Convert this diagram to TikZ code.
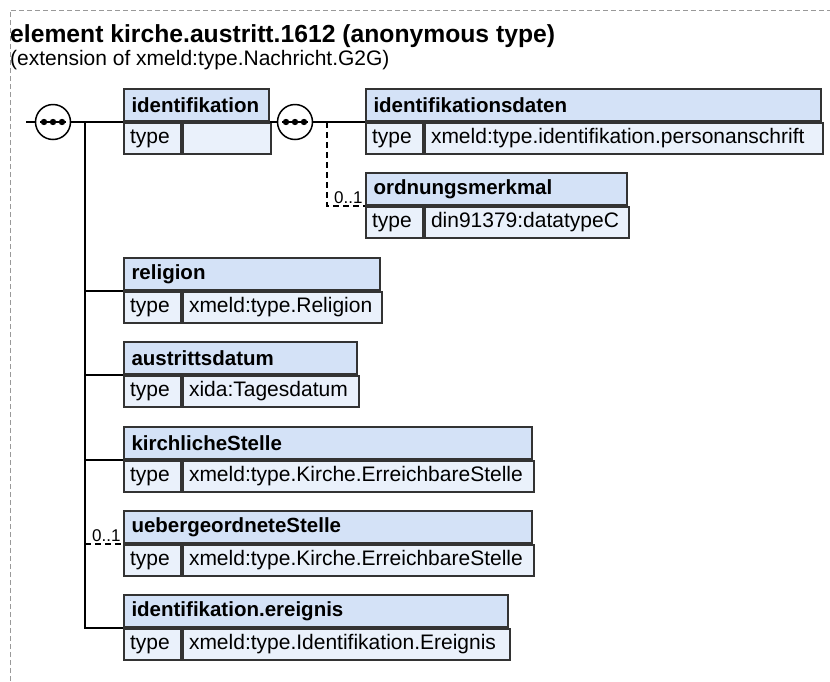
\documentclass[tikz,border=0pt]{standalone}
\usepackage{fontspec}
\setmainfont{Liberation Sans}
\usetikzlibrary{positioning}

\definecolor{headblue}{HTML}{D4E2F7}
\definecolor{rowblue}{HTML}{EAF1FB}
\definecolor{boxline}{HTML}{333333}

\begin{document}
\begin{tikzpicture}[x=1pt, y=-1pt,
	cell/.style={rectangle, draw=boxline, line width=2pt, inner ysep=0pt, align=left},
	elhead/.style={cell, fill=headblue, inner xsep=7.5pt, minimum height=32pt, anchor=south west,
		font=\fontsize{20.5}{24}\selectfont\bfseries},
	eltype/.style={cell, fill=rowblue, inner xsep=6pt, minimum height=31pt, anchor=north west,
		text width=45pt, font=\fontsize{21}{24}\selectfont},
	elval/.style={eltype, text width=#1},
	conn/.style={line width=2pt, black},
	opt/.style={conn, dash pattern=on 6pt off 4pt},
	multi/.style={above left, inner sep=1.5pt, font=\fontsize{17}{20}\selectfont},
	seqsym/.style={circle, draw=black, fill=white, line width=1.5pt, minimum size=35pt, inner sep=0pt,
		path picture={
			\draw[black, line width=1.8pt] ([xshift=-13pt]path picture bounding box.center)
				-- ([xshift=13pt]path picture bounding box.center);
			\foreach \dx in {-9,0,9}
				\fill[black] ([xshift=\dx pt]path picture bounding box.center) circle (3.2pt);
		}},
	frame/.style={black!40, line width=1pt, dash pattern=on 5pt off 3pt}]

	\useasboundingbox (0,0) rectangle (830,681);
	\draw[frame] (10,681) -- (10,10) -- (830,10);

	% heading
	\node[anchor=base west, inner sep=0pt, font=\fontsize{24.7}{30}\selectfont\bfseries]
		(title) at (10,42) {element kirche.austritt.1612 (anonymous type)};
	\node[anchor=base west, inner sep=0pt, font=\fontsize{21}{24}\selectfont]
		(subtitle) at (10,65) {(extension of xmeld:type.Nachricht.G2G)};

	% first level
	\node[elhead, text width=130pt] (ident) at (123,122) {identifikation};
	\node[eltype] (ident-t) at (ident.south west) {type};
	\node[elval=76pt] (ident-v) at (ident-t.north east) {};

	\node[elhead, text width=241pt] (relig) at (123,291) {religion};
	\node[eltype] (relig-t) at (relig.south west) {type};
	\node[elval=187pt] (relig-v) at (relig-t.north east) {xmeld:type.Religion};

	\node[elhead, text width=218pt] (austr) at (123,375) {austrittsdatum};
	\node[eltype] (austr-t) at (austr.south west) {type};
	\node[elval=164pt] (austr-v) at (austr-t.north east) {xida:Tagesdatum};

	\node[elhead, text width=393pt] (kirch) at (123,460) {kirchlicheStelle};
	\node[eltype] (kirch-t) at (kirch.south west) {type};
	\node[elval=339pt] (kirch-v) at (kirch-t.north east) {xmeld:type.Kirche.ErreichbareStelle};

	\node[elhead, text width=393pt] (ueber) at (123,544) {uebergeordneteStelle};
	\node[eltype] (ueber-t) at (ueber.south west) {type};
	\node[elval=339pt] (ueber-v) at (ueber-t.north east) {xmeld:type.Kirche.ErreichbareStelle};

	\node[elhead, text width=369pt] (ereig) at (123,628) {identifikation.ereignis};
	\node[eltype] (ereig-t) at (ereig.south west) {type};
	\node[elval=315pt] (ereig-v) at (ereig-t.north east) {xmeld:type.Identifikation.Ereignis};

	% second level
	\node[elhead, text width=440pt] (idd) at (365,122) {identifikationsdaten};
	\node[eltype] (idd-t) at (idd.south west) {type};
	\node[elval=386pt] (idd-v) at (idd-t.north east) {xmeld:type.identifikation.personanschrift};

	\node[elhead, text width=246pt] (ordn) at (365,206) {ordnungsmerkmal};
	\node[eltype] (ordn-t) at (ordn.south west) {type};
	\node[elval=192pt] (ordn-v) at (ordn-t.north east) {din91379:datatypeC};

	% sequences and connectors
	\coordinate (start) at (26,122);
	\node[seqsym] (seq1) at (53,122) {};
	\node[seqsym] (seq2) at (295,122) {};
	\coordinate (bus1) at (85,122);
	\coordinate (bus2) at (327,122);

	\draw[conn] (start) -- (seq1);
	\draw[conn] (seq1) -- (ident.south west);
	\draw[conn] (bus1) |- (relig.south west);
	\draw[conn] (bus1) |- (austr.south west);
	\draw[conn] (bus1) |- (kirch.south west);
	\draw[conn] (bus1) |- (ereig.south west);
	\draw[opt] (bus1 |- ueber.south west) -- node[multi, pos=1] {0..1} (ueber.south west);

	\draw[conn] (ident.south east) -- (seq2);
	\draw[conn] (seq2) -- (idd.south west);
	\draw[opt] (bus2) |- node[multi, pos=1] {0..1} (ordn.south west);
\end{tikzpicture}
\end{document}
